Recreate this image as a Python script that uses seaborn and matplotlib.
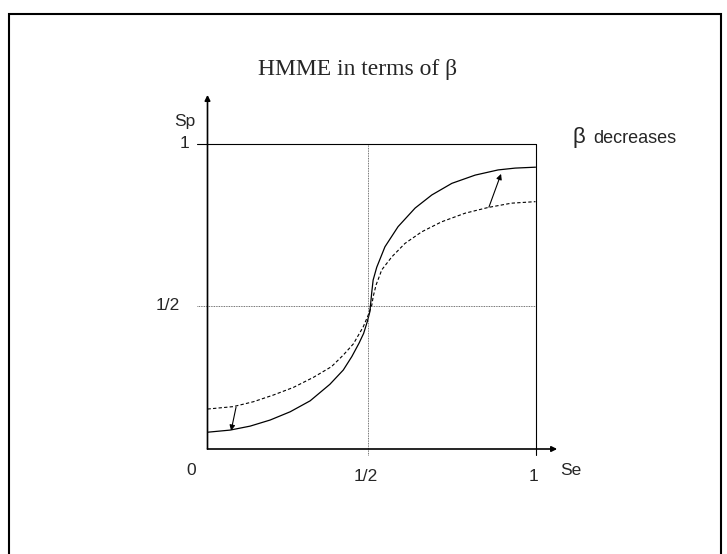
import matplotlib
matplotlib.use("Agg")
import matplotlib.pyplot as plt
from matplotlib.patches import Rectangle
import pandas as pd
import seaborn as sns

# ── curve points (Se, Sp) ─────────────────────────────────
se_solid = [0.000, 0.069, 0.130, 0.191, 0.252, 0.313, 0.373, 0.414, 0.440, 0.462, 0.476, 0.487,
            0.495, 0.498, 0.501, 0.505, 0.516, 0.541, 0.581, 0.633, 0.684, 0.745, 0.816,
            0.886, 0.938, 1.000]
sp_solid = [0.055, 0.062, 0.075, 0.095, 0.122, 0.158, 0.212, 0.259, 0.303, 0.347, 0.379, 0.417,
            0.450, 0.483, 0.516, 0.554, 0.596, 0.663, 0.729, 0.790, 0.833, 0.871, 0.898,
            0.915, 0.921, 0.924]
se_dashed = [0.000, 0.079, 0.140, 0.201, 0.262, 0.323, 0.378, 0.414, 0.445, 0.475, 0.490,
             0.501, 0.505, 0.514, 0.526, 0.531, 0.562, 0.602, 0.653, 0.714, 0.785, 0.856,
             0.927, 1.000]
sp_dashed = [0.131, 0.139, 0.155, 0.177, 0.202, 0.235, 0.270, 0.308, 0.345, 0.401, 0.439,
             0.472, 0.499, 0.538, 0.572, 0.587, 0.630, 0.674, 0.712, 0.745, 0.773, 0.792,
             0.806, 0.811]

# arrows showing the shift as beta decreases (tail -> head)
arrow_tails = [(0.858, 0.793), (0.087, 0.137)]
arrow_heads = [(0.895, 0.902), (0.072, 0.060)]

# guide lines ("1/2" and "1") as they sit in the picture
half_se, half_sp = 0.49, 0.47
x_ticks = [half_se, 1.0]
y_ticks = [half_sp, 1.0]
tick_labels = ["1/2", "1"]

solid = pd.DataFrame({"Se": se_solid, "Sp": sp_solid})
dashed = pd.DataFrame({"Se": se_dashed, "Sp": sp_dashed})

sns.set_style("white")
plt.rcParams["font.family"] = ["Liberation Sans", "DejaVu Sans"]

W, H = 727, 554
fig = plt.figure(figsize=(W / 100, H / 100), dpi=100)
fig.patch.set_facecolor("white")

# outer frame of the slide
fig.add_artist(Rectangle((8.5 / W, -0.05), (720.5 - 8.5) / W, 1.05 - 13.5 / H,
                         transform=fig.transFigure, fill=False, lw=1.5, ec="black"))

ax = fig.add_axes([207.5 / W, (H - 449) / H, 328 / W, 305 / H])
ax.set_xlim(0, 1)
ax.set_ylim(0, 1)
ax.axis("off")

sns.lineplot(data=solid, x="Se", y="Sp", ax=ax, color="black", lw=0.9,
             estimator=None, sort=False, solid_joinstyle="round")
sns.lineplot(data=dashed, x="Se", y="Sp", ax=ax, color="black", lw=0.8,
             estimator=None, sort=False, linestyle=(0, (3, 2)))

# guide lines: dotted at 1/2, solid at 1 (they run past the axes as ticks)
ax.plot([half_se, half_se], [-0.02, 1], color="#444444", lw=0.6, ls=(0, (1, 1)), clip_on=False)
ax.plot([-0.032, 1], [half_sp, half_sp], color="#444444", lw=0.6, ls=(0, (1, 1)), clip_on=False)
ax.plot([1, 1], [-0.02, 1], color="black", lw=0.8, clip_on=False)
ax.plot([-0.032, 1], [1, 1], color="black", lw=0.8, clip_on=False)

# axes with arrow heads
arrow_kw = dict(arrowstyle="-|>", color="black", lw=1.2, mutation_scale=8, shrinkA=0, shrinkB=0)
ax.annotate("", xy=(1.066, 0), xytext=(0, 0), arrowprops=arrow_kw, annotation_clip=False)
ax.annotate("", xy=(0, 1.161), xytext=(0, 0), arrowprops=arrow_kw, annotation_clip=False)

for tail, head in zip(arrow_tails, arrow_heads):
    ax.annotate("", xy=head, xytext=tail, annotation_clip=False,
                arrowprops=dict(arrowstyle="-|>", color="black", lw=0.8,
                                mutation_scale=8, shrinkA=0, shrinkB=0))

fs = 12.5
for xv, lab in zip(x_ticks, tick_labels):
    ax.text(xv - 0.007, -0.09, lab, ha="center", va="center", fontsize=fs)
ax.text(-0.12, y_ticks[0], tick_labels[0], ha="center", va="center", fontsize=fs)
ax.text(-0.069, y_ticks[1], tick_labels[1], ha="center", va="center", fontsize=fs)
ax.text(-0.05, -0.072, "0", ha="center", va="center", fontsize=fs)
ax.text(1.108, -0.069, "Se", ha="center", va="center", fontsize=fs)
ax.text(-0.069, 1.074, "Sp", ha="center", va="center", fontsize=fs)

ax.text(0.459, 1.226, "HMME in terms of β", ha="center", va="baseline",
        fontsize=17, family=["Liberation Serif", "DejaVu Serif"])
ax.text(1.114, 1.003, "β", ha="left", va="baseline", fontsize=16)
ax.text(1.175, 1.003, "decreases", ha="left", va="baseline", fontsize=13)

plt.savefig("out.png", dpi=100, facecolor="white")
